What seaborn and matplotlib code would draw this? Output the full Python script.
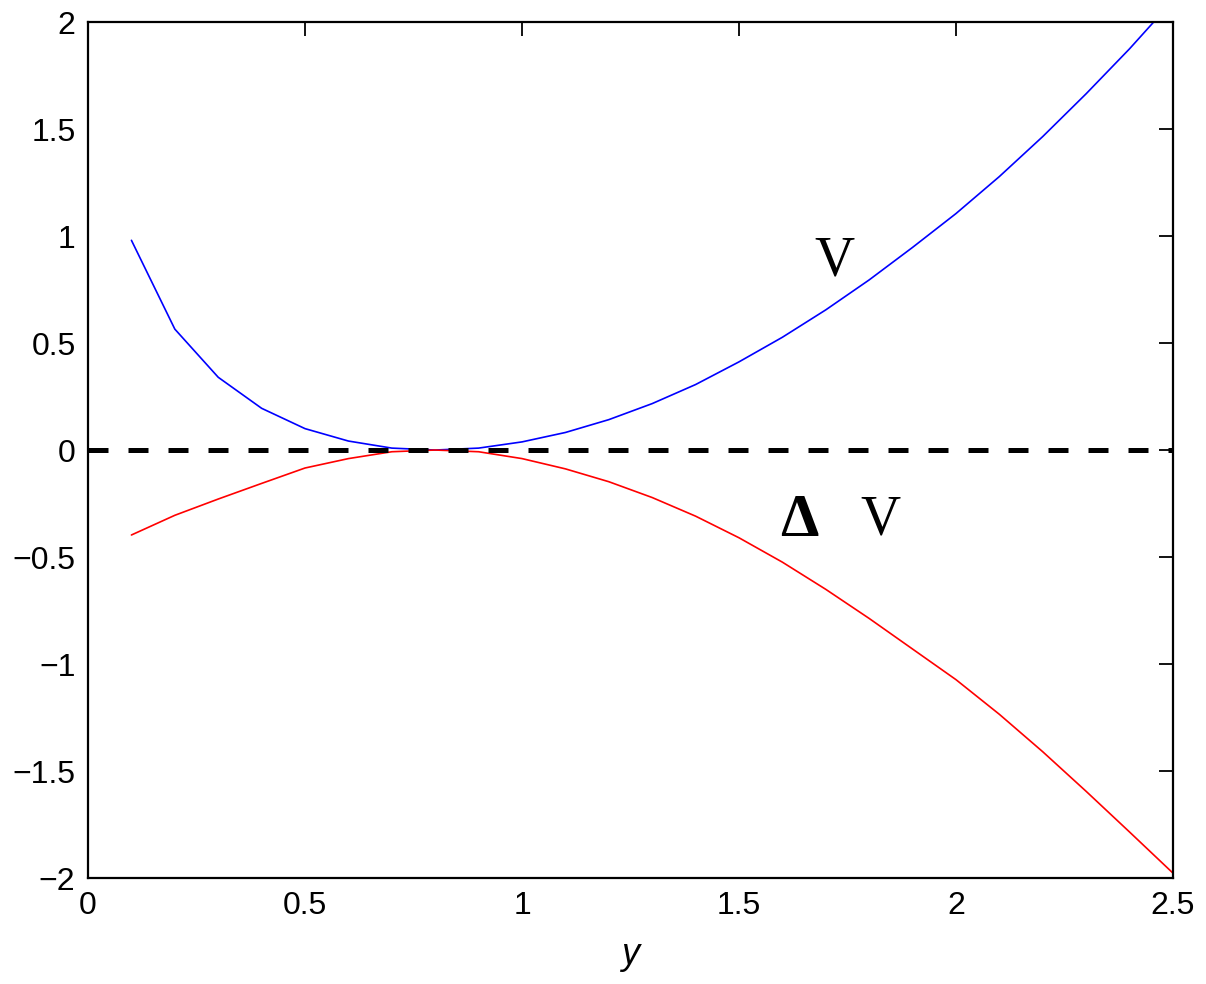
import numpy as np
import pandas as pd
import seaborn as sns
import matplotlib
matplotlib.use('Agg')
import matplotlib.pyplot as plt

# values, y = 0.1 ... 2.5 in steps of 0.1
y_vals = [0.1, 0.2, 0.3, 0.4, 0.5, 0.6, 0.7, 0.8, 0.9, 1.0,
          1.1, 1.2, 1.3, 1.4, 1.5, 1.6, 1.7, 1.8, 1.9, 2.0,
          2.1, 2.2, 2.3, 2.4, 2.5]
V = [0.98, 0.565, 0.34, 0.195, 0.10, 0.042, 0.009, 0.0, 0.009, 0.038,
     0.082, 0.142, 0.217, 0.306, 0.412, 0.527, 0.655, 0.795, 0.947, 1.105,
     1.278, 1.465, 1.665, 1.875, 2.10]
dV = [-0.397, -0.305, -0.229, -0.156, -0.084, -0.040, -0.008, 0.0, -0.008, -0.040,
      -0.088, -0.148, -0.222, -0.309, -0.410, -0.524, -0.651, -0.787, -0.930, -1.073,
      -1.235, -1.410, -1.595, -1.785, -1.977]
xticks = [0, 0.5, 1, 1.5, 2, 2.5]
yticks = [-2, -1.5, -1, -0.5, 0, 0.5, 1, 1.5, 2]

sns.set_style("white")
plt.rcParams['font.family'] = ['Liberation Sans', 'DejaVu Sans']
plt.rcParams['text.color'] = 'black'
plt.rcParams['axes.labelcolor'] = 'black'

df = pd.DataFrame({'y': y_vals, 'V': V, 'dV': dV})

fig = plt.figure(figsize=(12.06, 9.84), dpi=100)
ax = fig.add_axes([0.073, 0.1077, 0.8996, 0.8699])

sns.lineplot(data=df, x='y', y='V', color='blue', lw=1.2, ax=ax)
sns.lineplot(data=df, x='y', y='dV', color='red', lw=1.2, ax=ax)
ax.axhline(0, color='black', lw=3.6, dashes=(4, 4))

ax.set_xlim(0, 2.5)
ax.set_ylim(-2, 2)
ax.set_xticks(xticks)
ax.set_yticks(yticks)
ax.set_xticklabels([f'{t:g}' for t in xticks])
ax.set_yticklabels([f'{t:g}'.replace('-', '\u2212') for t in yticks])
ax.tick_params(direction='in', length=10, width=1.3, labelsize=23,
               top=True, right=True, pad=9, colors='black')
for s in ax.spines.values():
    s.set_linewidth(1.6)
    s.set_color('black')

ax.set_xlabel('y', fontsize=26, style='italic', labelpad=12)
ax.set_ylabel('')

ax.text(1.72, 0.88, 'V', family='Liberation Serif', fontsize=40,
        ha='center', va='center')
ax.text(1.64, -0.33, '\u0394', family='Liberation Serif', fontsize=44,
        fontweight='bold', ha='center', va='center')
ax.text(1.825, -0.33, 'V', family='Liberation Serif', fontsize=40,
        ha='center', va='center')

fig.savefig('out.png', dpi=100)
